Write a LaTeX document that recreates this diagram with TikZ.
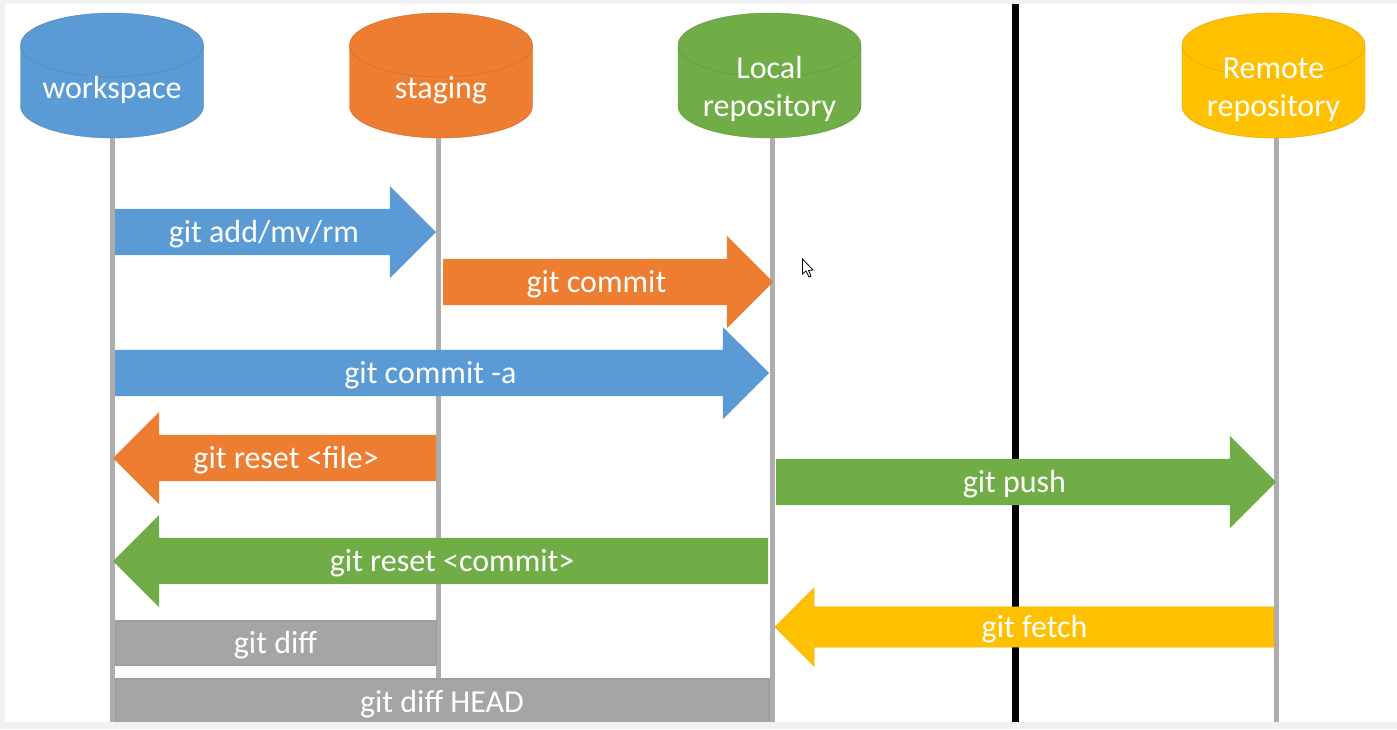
\documentclass[tikz,border=0pt]{standalone}
\usepackage{fontspec}
\setmainfont{Carlito}
\usetikzlibrary{shapes.geometric, shapes.arrows}
\definecolor{blueFill}{HTML}{5B9BD5}
\definecolor{orangeFill}{HTML}{ED7D31}
\definecolor{greenFill}{HTML}{70AD47}
\definecolor{goldFill}{HTML}{FFC000}
\definecolor{grayFill}{HTML}{A5A5A5}
\definecolor{lifeGray}{HTML}{ADADAD}
\definecolor{frameGray}{HTML}{F1F1F3}
\tikzset{
	store/.style = {shape = cylinder, shape border rotate = 90, aspect = 0.46, minimum width = 183pt, minimum height = 125pt, inner sep = 0pt, outer sep = 0pt, anchor = south, font = \fontsize{32}{38}\selectfont},
	storetext/.style = {text = white, font = \fontsize{32}{38}\selectfont, align = center, inner sep = 0pt, text height = 20pt, text depth = 7pt},
	life/.style = {draw = lifeGray, line width = 5pt},
	cmd/.style = {shape = single arrow, single arrow head extend = 23pt, single arrow tip angle = 90, single arrow head indent = 0pt, text height = 24pt, text depth = 4pt, inner ysep = 9pt, inner xsep = 0pt, outer sep = 0pt, text = white, font = \fontsize{32}{32}\selectfont},
	diffbar/.style = {draw = gray!75!white, line width = 2pt, fill = grayFill, text = white, font = \fontsize{32}{32}\selectfont, text height = 26pt, text depth = 4pt, inner sep = 0pt, outer sep = 0pt, anchor = north west}
}
\begin{document}
\begin{tikzpicture}[x = 1pt, y = -1pt]
	\useasboundingbox (0, 0) rectangle (1397, 729);
	\coordinate (borderTop) at (1015, 4);
	\coordinate (borderEnd) at (1015, 722);
	\draw[line width = 7pt] (borderTop) -- (borderEnd);
	% the four stores with their lines
	\foreach \name/\x/\lineX/\fillc/\txt/\textY/\lastY in {workspace/112/112/blue/workspace/92/722, staging/441/438/orange/staging/92/678, local/769.5/772/green/{Local\\repository}/110/722, remote/1273.5/1276/gold/{Remote\\repository}/110/722}{
		\coordinate (\name End) at (\lineX, \lastY);
		\node[store, draw = \fillc Fill!85!black, fill = \fillc Fill] (\name) at (\x, 138) {\phantom{workspace}};
		\node[storetext] (\name Text) at (\x, \textY) {\txt};
		\draw[life] (\name End |- \name.south) -- (\name End);}
	% tail position, length and colour of the commands
	\foreach \name/\x/\y/\len/\rot/\fillc/\txt in {add/115/232/321/0/blue/{git add/mv/rm}, commit/443/282/330/0/orange/git commit, commitA/115/373/654/0/blue/git commit -a, resetFile/436/458/323/180/orange/git reset <file>, push/776/482/500/0/green/git push, resetCommit/768/561/655/180/green/git reset <commit>}{
		\node[cmd, shape border rotate = \rot, minimum width = 92pt, minimum height = \len pt, fill = \fillc Fill, anchor = tail] (\name) at (\x, \y) {\txt};}
	\node[cmd, shape border rotate = 180, single arrow head extend = 19pt, inner ysep = 6pt, minimum width = 78pt, minimum height = 499pt, fill = goldFill, draw = goldFill!90!black, anchor = tail] (fetch) at (1274, 627) {git fetch};
	\node[diffbar, minimum width = 320pt, minimum height = 44pt] (diff) at (115.5, 620.5) {git diff};
	\node[diffbar, minimum width = 653pt, minimum height = 46pt] (diffHead) at (115.5, 678.5) {git diff HEAD};
	% screen edges and pointer
	\fill[frameGray] (0, 0) rectangle (1397, 4);
	\fill[frameGray] (0, 0) rectangle (5, 729);
	\fill[frameGray] (0, 722) rectangle (1397, 729);
	\draw[fill = white, line width = 0.8pt] (802.5, 259) -- (802.5, 274) -- (806, 271) -- (809, 277) -- (811, 276) -- (808.5, 270.5) -- (813, 270) -- cycle;
\end{tikzpicture}
\end{document}
